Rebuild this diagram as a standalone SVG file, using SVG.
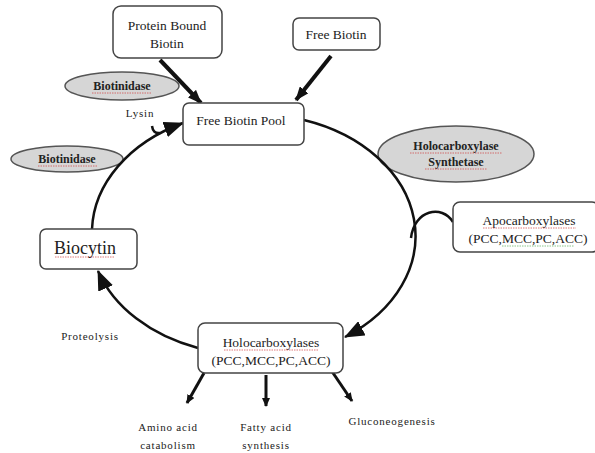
<svg xmlns="http://www.w3.org/2000/svg" width="595" height="453" viewBox="0 0 595 453">
<style>
.box{fill:#fff;stroke:#444;stroke-width:1.5}
.enz{fill:#d6d6d6;stroke:#555;stroke-width:1.5}
.t{font-family:"Liberation Serif","Times New Roman",serif;fill:#222;text-anchor:middle}
.bt{font-size:13.5px}
.et{font-size:12px;font-weight:bold}
.sm{font-size:11px;letter-spacing:0.8px}
.cyc{fill:none;stroke:#111;stroke-width:2.5}
.thick{fill:none;stroke:#111;stroke-width:4}
.thin{fill:none;stroke:#111;stroke-width:3}
.sq{fill:none;stroke:#d04040;stroke-width:1;stroke-dasharray:1.5 1;opacity:0.7}
.sg{fill:none;stroke:#40a040;stroke-width:1;stroke-dasharray:1.5 1;opacity:0.6}
</style>
<defs>
<marker id="big" markerUnits="userSpaceOnUse" viewBox="0 0 20 16" refX="19" refY="8" markerWidth="20" markerHeight="16" orient="auto">
<path d="M0,0 L20,8 L0,16 z" fill="#111"/>
</marker>
<marker id="med" markerUnits="userSpaceOnUse" viewBox="0 0 14 11" refX="13" refY="5.5" markerWidth="14" markerHeight="11" orient="auto">
<path d="M0,0 L14,5.5 L0,11 z" fill="#111"/>
</marker>
<marker id="small" markerUnits="userSpaceOnUse" viewBox="0 0 9 8" refX="8" refY="4" markerWidth="9" markerHeight="8" orient="auto">
<path d="M0,0 L9,4 L0,8 z" fill="#111"/>
</marker>
</defs>

<g id="biotinidase1">
<ellipse class="enz" cx="122" cy="86" rx="57" ry="14"/>
<text class="t et" x="122" y="90">Biotinidase</text>
<path class="sq" d="M92 93 H152"/>
</g>
<g id="biotinidase2">
<ellipse class="enz" cx="67" cy="159" rx="56" ry="13"/>
<text class="t et" x="67" y="163">Biotinidase</text>
<path class="sq" d="M38 166 H97"/>
</g>
<g id="hcs">
<ellipse class="enz" cx="456" cy="154" rx="78" ry="28"/>
<text class="t et" x="456" y="150">Holocarboxylase</text>
<text class="t et" x="456" y="166">Synthetase</text>
<path class="sq" d="M410 153 H502 M425 169 H487"/>
</g>

<g id="connectors">
<path class="cyc" d="M304 120 A161 122 0 0 1 345 337" marker-end="url(#big)"/>
<path class="cyc" d="M198 348 A161 122 0 0 1 98 271" marker-end="url(#big)"/>
<path class="cyc" d="M92 229 A161 122 0 0 1 183 123" marker-end="url(#big)"/>
<path class="cyc" d="M152 126 Q153 134 160 133" stroke-width="2"/>
<path class="cyc" d="M411 238 C414 210 442 204 453 222" stroke-width="2"/>
<path class="thick" d="M160 60 L201 103" marker-end="url(#med)"/>
<path class="thick" d="M331 56 L296 100" marker-end="url(#med)"/>
<path class="thin" d="M204 373 L187 403" marker-end="url(#small)"/>
<path class="thin" d="M266 375 L266 406" marker-end="url(#small)"/>
<path class="thin" d="M331 370 L352 401" marker-end="url(#small)"/>
</g>

<g id="protein-bound-biotin">
<rect class="box" x="113" y="6" width="109" height="52" rx="8"/>
<text class="t bt" x="167" y="30">Protein Bound</text>
<text class="t bt" x="167" y="48">Biotin</text>
</g>
<g id="free-biotin">
<rect class="box" x="293" y="18" width="87" height="32" rx="6"/>
<text class="t bt" x="336" y="39" font-size="13">Free Biotin</text>
</g>
<g id="free-biotin-pool">
<rect class="box" x="183" y="103" width="121" height="42" rx="6"/>
<text class="t bt" x="241" y="125">Free Biotin Pool</text>
</g>
<g id="biocytin">
<rect class="box" x="40" y="229" width="97" height="40" rx="6"/>
<text class="t" x="85" y="254" font-size="18">Biocytin</text>
<path class="sq" d="M55 257 H115"/>
</g>
<g id="apocarboxylases">
<rect class="box" x="453" y="202" width="146" height="50" rx="7"/>
<text class="t bt" x="529" y="225">Apocarboxylases</text>
<text class="t bt" x="528" y="243">(PCC,MCC,PC,ACC)</text>
<path class="sq" d="M483 228 H576"/>
<path class="sg" d="M502 246 H574"/>
</g>
<g id="holocarboxylases">
<rect class="box" x="198" y="323" width="145" height="50" rx="7"/>
<text class="t bt" x="271" y="347">Holocarboxylases</text>
<text class="t bt" x="271" y="365">(PCC,MCC,PC,ACC)</text>
<path class="sq" d="M224 350 H318"/>
</g>

<g id="labels">
<text class="t sm" x="140" y="117">Lysin</text>
<text class="t sm" x="90" y="340">Proteolysis</text>
<text class="t sm" x="168" y="431">Amino acid</text>
<text class="t sm" x="168" y="449">catabolism</text>
<text class="t sm" x="266" y="431">Fatty acid</text>
<text class="t sm" x="266" y="449">synthesis</text>
<text class="t sm" x="392" y="425">Gluconeogenesis</text>
</g>
</svg>
